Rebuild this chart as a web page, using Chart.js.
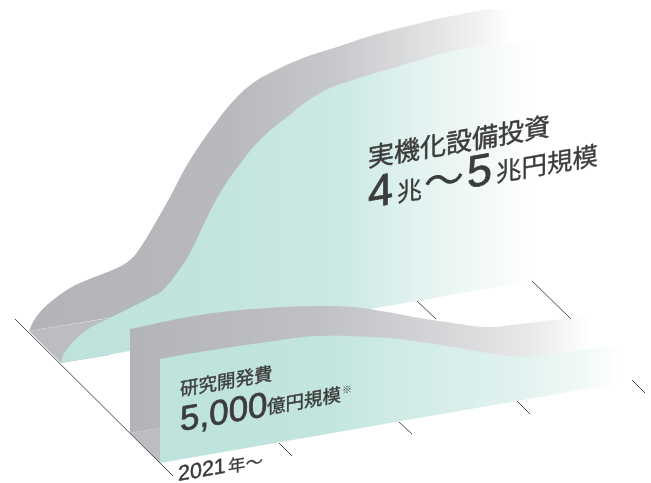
<!DOCTYPE html>
<html lang="ja">
<head>
<meta charset="utf-8">
<style>html,body{margin:0;padding:0;background:#fff}canvas{display:block}</style>
<script src="https://cdn.jsdelivr.net/npm/chart.js@4/dist/chart.umd.min.js"></script>
</head>
<body>
<canvas id="c" width="651" height="483"></canvas>
<script>
// Capital investment ribbon (rear) — crest, inner edge and floor
const plantRimTop = [[29,331],[33,322],[40,312],[53,300],[70,288],[87,280],[117,268],[130,260],[140,248],[153,227],[170,197],[190,160],[220,117],[237,97],[253,83],[270,73],[303,58],[337,47],[370,36],[400,28],[457,15],[500,10],[515,22]];
const plantRimBase = [[29,331],[515,251]];
const plantFloorTop = [[29,331],[110,318]];
const plantFloorBase = [[29,331],[61,363],[110,355]];
const plantFaceTop = [[61,363],[65,352],[77,338],[90,328],[110,318],[130,308],[150,298],[163,290],[177,273],[190,253],[203,226],[220,193],[240,164],[260,140],[287,117],[320,93],[353,80],[400,66],[457,50],[532,41]];
const plantFaceBase = [[61,363],[532,281]];

// R&D ribbon (front)
const rndRimTop = [[130,329],[200,315],[267,308],[320,306],[353,307],[387,312],[420,318],[453,323],[487,327],[520,324],[553,320],[590,318]];
const rndRimBase = [[130,433],[600,355]];
const rndFloorTop = [[130,433],[160,428]];
const rndFloorBase = [[130,433],[160,463]];
const rndFaceTop = [[160,359],[200,352],[267,342],[320,336],[387,338],[420,342],[453,347],[487,353],[520,357],[553,354],[587,349],[632,345]];
const rndFaceBase = [[160,463],[632,381]];

// Time axis and its year ticks
const timeAxis = [[15,319],[173,476]];
const rearTicks = [[[417,301],[436,319]],[[532,281],[571,319]]];
const frontTicks = [[[279,443],[292,456]],[[399,422],[412,434]],[[517,401],[530,414]],[[632,380],[645,393]]];

// Label text
const plantTitle = '実機化設備投資';
const plantAmount = ['4', '兆', '～', '5', '兆円規模'];
const rndTitle = '研究開発費';
const rndAmount = ['5,000', '億円規模', '※'];
const startLabel = ['2021', '年～'];

const canvas = document.getElementById('c');
const ctx2d = canvas.getContext('2d');

function fade(stops) {
  const g = ctx2d.createLinearGradient(stops[0][0], 0, stops[stops.length - 1][0], 0);
  const span = stops[stops.length - 1][0] - stops[0][0];
  stops.forEach(s => g.addColorStop((s[0] - stops[0][0]) / span, s[1]));
  return g;
}

const plantRimFill = fade([[29,'#b3b4b8'],[230,'#b8b9bd'],[340,'#c8c9cc'],[430,'#e2e2e4'],[480,'#f2f2f3'],[510,'#ffffff']]);
const plantFaceFill = fade([[61,'#bde3dc'],[200,'#c2e4de'],[340,'#cce9e4'],[440,'#e8f5f3'],[500,'#f6fbfa'],[530,'#ffffff']]);
const rndRimFill = fade([[130,'#b3b4b8'],[320,'#c0c1c4'],[450,'#d6d7d9'],[530,'#e9e9eb'],[590,'#ffffff']]);
const rndFaceFill = fade([[160,'#bde3dc'],[320,'#c2e5de'],[400,'#d0ebe6'],[520,'#e1f2ef'],[580,'#f0f9f7'],[620,'#ffffff']]);

const toXY = pts => pts.map(p => ({x: p[0], y: p[1]}));
let layer = 100;

// A filled band is two line datasets: the upper edge fills down to the lower edge.
function band(top, base, fill, tension) {
  const order = layer--;
  return [
    {data: toXY(top), fill: '+1', backgroundColor: fill, borderWidth: 0, pointRadius: 0,
     tension: tension, order: order},
    {data: toXY(base), fill: false, borderWidth: 0, pointRadius: 0, order: order}
  ];
}
function rule(pts) {
  return {data: toXY(pts), fill: false, borderColor: '#4a4a4a', borderWidth: 1, pointRadius: 0, order: layer--};
}

const datasets = [
  ...rearTicks.map(rule),
  ...band(plantRimTop, plantRimBase, plantRimFill, 0.4),
  ...band(plantFloorTop, plantFloorBase, '#bcbdc1', 0),
  ...band(plantFaceTop, plantFaceBase, plantFaceFill, 0.4),
  ...frontTicks.map(rule),
  ...band(rndRimTop, rndRimBase, rndRimFill, 0.4),
  ...band(rndFloorTop, rndFloorBase, '#bcbdc1', 0),
  ...band(rndFaceTop, rndFaceBase, rndFaceFill, 0.4),
  rule(timeAxis)
];

const LATIN = '"Liberation Sans", Arial, sans-serif';
const CJK = '"Noto Sans CJK JP", sans-serif';
const SLOPE = -0.174;

// Sheared text run along the floor direction, thickened a little with a hairline stroke.
function writeRun(ctx, x, y, text, size, family, heft) {
  ctx.setTransform(1, SLOPE, 0, 1, x, y);
  ctx.font = '400 ' + size + 'px ' + family;
  ctx.fillText(text, 0, 0);
  if (heft) {
    ctx.lineWidth = heft;
    ctx.strokeText(text, 0, 0);
  }
}

const ribbonLabels = {
  id: 'ribbonLabels',
  afterDatasetsDraw(chart) {
    const ctx = chart.ctx;
    ctx.save();
    ctx.fillStyle = '#3c3c3c';
    ctx.strokeStyle = '#3c3c3c';
    ctx.lineJoin = 'round';
    ctx.textBaseline = 'alphabetic';
    ctx.textAlign = 'left';

    writeRun(ctx, 368, 167, plantTitle, 26, CJK, 0.5);
    writeRun(ctx, 368, 208, plantAmount[0], 45, LATIN, 0.8);
    writeRun(ctx, 397, 202, plantAmount[1], 25, CJK, 0.3);
    writeRun(ctx, 424, 198, plantAmount[2], 40, CJK, 0.3);
    writeRun(ctx, 467, 188, plantAmount[3], 45, LATIN, 0.8);
    writeRun(ctx, 496, 182, plantAmount[4], 25.5, CJK, 0.3);

    writeRun(ctx, 180, 396, rndTitle, 18.5, CJK, 0.4);
    writeRun(ctx, 180, 431, rndAmount[0], 35, LATIN, 0.7);
    writeRun(ctx, 267, 414, rndAmount[1], 18.5, CJK, 0.4);
    writeRun(ctx, 342, 394, rndAmount[2], 10, CJK, 0);

    writeRun(ctx, 178, 481, startLabel[0], 21.5, LATIN, 0.5);
    writeRun(ctx, 228, 473, startLabel[1], 17.5, CJK, 0.3);
    ctx.restore();
  }
};

new Chart(canvas, {
  type: 'line',
  data: {datasets},
  plugins: [ribbonLabels],
  options: {
    responsive: false,
    animation: false,
    parsing: false,
    normalized: true,
    layout: {padding: 0},
    plugins: {legend: {display: false}, tooltip: {enabled: false}},
    events: [],
    scales: {
      x: {type: 'linear', min: 0, max: 651, display: false},
      y: {type: 'linear', min: 0, max: 483, reverse: true, display: false}
    }
  }
});
</script>
</body>
</html>
